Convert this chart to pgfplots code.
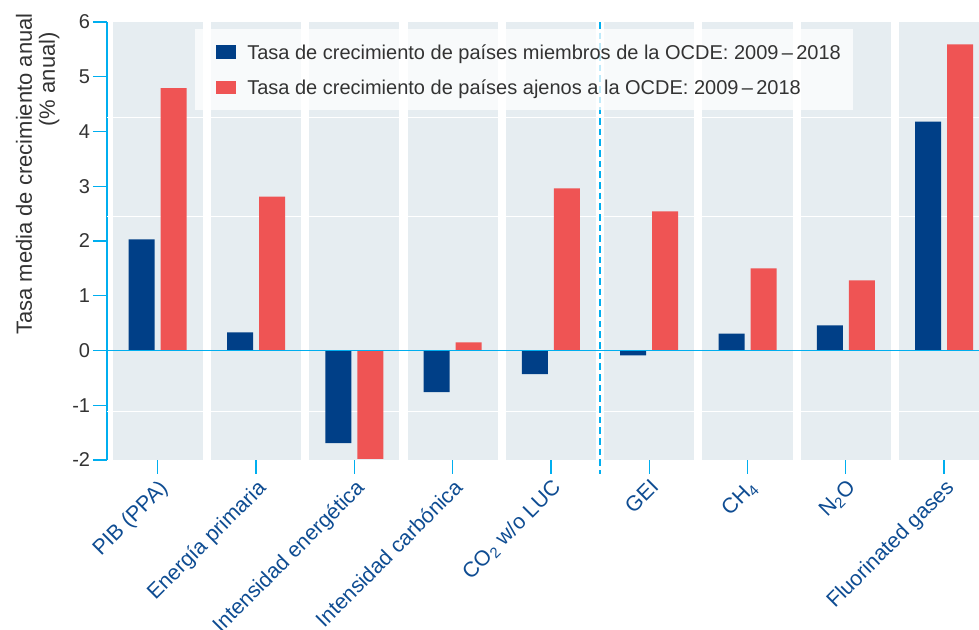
\documentclass[border=0pt]{standalone}
\usepackage{fontspec}
\setmainfont{Liberation Sans}
\usepackage{pgfplots}
\pgfplotsset{compat=1.18}
\definecolor{oecdblue}{HTML}{003F87}
\definecolor{nonred}{HTML}{EF5454}
\definecolor{axcyan}{HTML}{00AEEF}
\definecolor{panelbg}{HTML}{E6EDF1}
\definecolor{lblblue}{HTML}{0E4C92}
\definecolor{txtgray}{HTML}{333333}
\begin{document}
\begin{tikzpicture}[font=\fontsize{14}{16.8}\selectfont]
\begin{axis}[
  at={(0,0)}, anchor=south west,
  scale only axis, width=654pt, height=328.5pt,
  xmin=-0.5158, xmax=8.355, ymin=-2, ymax=6,
  clip=false,
  axis lines*=left,
  axis line style={-},
  x axis line style={draw=none},
  y axis line style={axcyan, line width=1.1pt},
  ytick={-2,-1,0,1,2,3,4,5,6},
  yticklabels={-2,-1,0,1,2,3,4,5,6},
  xtick={0,1,2,3,4,5,6,7,8},
  xticklabels={PIB (PPA),Energía primaria,Intensidad energética,Intensidad carbónica,CO\textsubscript{2} w/o LUC,GEI,CH\textsubscript{4},N\textsubscript{2}O,Fluorinated gases},
  tick align=outside,
  major tick length=10.5pt,
  tick style={axcyan, line width=1pt},
  yticklabel style={txtgray, inner xsep=2pt, font=\fontsize{15}{18}\selectfont},
  xticklabel style={lblblue, rotate=45, anchor=north east, inner sep=2pt, font=\fontsize{16}{19}\selectfont},
]
\pgfplotsinvokeforeach{0,1,2,3,4,5,6,7,8}{
  \fill[panelbg] ({#1-0.458},-2) rectangle ({#1+0.458},6);
}
\draw[white, line width=1pt] (-0.5158,4.26) -- (8.355,4.26);
\draw[white, line width=1pt] (-0.5158,2.45) -- (8.355,2.45);
\draw[white, line width=1pt] (-0.5158,-1.11) -- (8.355,-1.11);
\addplot[ybar, bar width=19.5pt, bar shift=-12pt, fill=oecdblue, draw=none]
  coordinates {(0,2.03) (1,0.33) (2,-1.69) (3,-0.76) (4,-0.43) (5,-0.09) (6,0.31) (7,0.46) (8,4.18)};
\addplot[ybar, bar width=19.5pt, bar shift=12pt, fill=nonred, draw=none]
  coordinates {(0,4.79) (1,2.81) (2,-1.98) (3,0.15) (4,2.96) (5,2.54) (6,1.50) (7,1.28) (8,5.59)};
\draw[axcyan, line width=1.2pt] (-0.5158,0) -- (8.355,0);
\draw[axcyan, line width=1pt, dash pattern=on 5pt off 3pt] (4.5,6) -- ([yshift=-10.5pt]4.5,-2);
\end{axis}
% legend
\fill[white, opacity=0.75] (66pt,262.5pt) rectangle (559.5pt,323.25pt);
\fill[oecdblue] (81.75pt,300.75pt) rectangle (96.75pt,311.25pt);
\fill[nonred] (81.75pt,274.5pt) rectangle (96.75pt,284.25pt);
\begin{scope}[font=\fontsize{15}{18}\selectfont]
\node[anchor=base west, inner sep=0pt, text=txtgray] at (105pt,300.6pt) {Tasa de crecimiento de países miembros de la OCDE: 2009\,--\,2018};
\node[anchor=base west, inner sep=0pt, text=txtgray] at (105pt,274.2pt) {Tasa de crecimiento de países ajenos a la OCDE: 2009\,--\,2018};
\end{scope}
% y label
\begin{scope}[font=\fontsize{16.5}{19.8}\selectfont]
\node[rotate=90, anchor=base east, inner sep=0pt, text=txtgray] at (-56.25pt,335.25pt) {Tasa media de crecimiento anual};
\node[rotate=90, anchor=base east, inner sep=0pt, text=txtgray] at (-39pt,321pt) {(\% anual)};
\end{scope}
\pgfresetboundingbox
\path[use as bounding box] (-80.25pt,-127.5pt) rectangle (654pt,345pt);
\end{tikzpicture}
\end{document}
